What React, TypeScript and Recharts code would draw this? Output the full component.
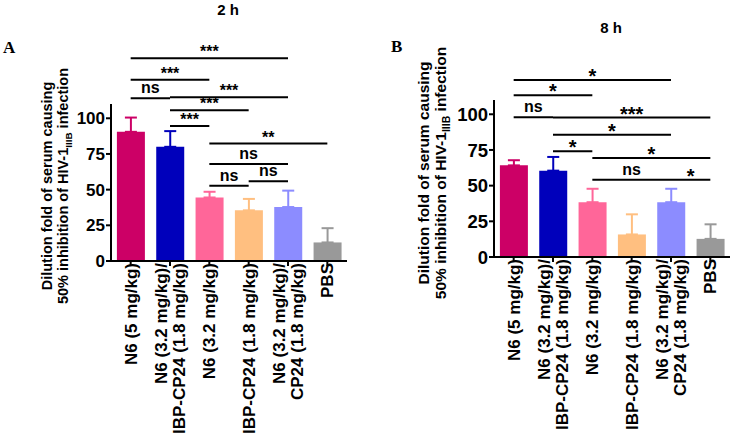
import React from 'react';
import { BarChart, Bar, XAxis, YAxis, ErrorBar, ReferenceLine } from 'recharts';

const FONT = '"Liberation Sans", Arial, sans-serif';

const categories = [
  'N6 (5 mg/kg)',
  'N6 (3.2 mg/kg)/\nIBP-CP24 (1.8 mg/kg)',
  'N6 (3.2 mg/kg)',
  'IBP-CP24 (1.8 mg/kg)',
  'N6 (3.2 mg/kg)/\nCP24 (1.8 mg/kg)',
  'PBS',
];
const colors = ['#cc0066', '#0000bb', '#ff6699', '#ffbf80', '#8c8cff', '#999999'];
const yTicks = [0, 25, 50, 75, 100];

// 2 h
const meansA = [90.5, 80, 44.5, 35.5, 37.8, 13];
const errorsA = [10, 11, 4, 8, 11.5, 10];
// 8 h
const meansB = [64.2, 60.5, 38.4, 15.8, 38.4, 12.7];
const errorsB = [3.6, 9.6, 9.4, 14.1, 9.4, 10.2];

// significance brackets: from bar, to bar, height (y units), mark
const sigA = [
  { from: 0, to: 4, y: 142, text: '***' },
  { from: 0, to: 2, y: 127, text: '***' },
  { from: 0, to: 1, y: 114, text: 'ns' },
  { from: 1, to: 4, y: 114.7, text: '***' },
  { from: 1, to: 3, y: 105.6, text: '***' },
  { from: 1, to: 2, y: 94.6, text: '***' },
  { from: 2, to: 5, y: 82.3, text: '**' },
  { from: 2, to: 4, y: 68, text: 'ns' },
  { from: 2, to: 3, y: 52.7, text: 'ns' },
  { from: 3, to: 4, y: 55.9, text: 'ns' },
];
const sigB = [
  { from: 0, to: 4, y: 124, text: '*' },
  { from: 0, to: 2, y: 113.4, text: '*' },
  { from: 0, to: 1, y: 97.9, text: 'ns' },
  { from: 1, to: 5, y: 97.7, text: '***' },
  { from: 1, to: 4, y: 85.7, text: '*' },
  { from: 1, to: 2, y: 74.1, text: '*' },
  { from: 2, to: 5, y: 69.4, text: '*' },
  { from: 2, to: 4, y: 54.1, text: 'ns' },
  { from: 4, to: 5, y: 54.1, text: '*' },
];

const buildRows = (means: number[], errors: number[]) =>
  categories.map((name, i) => ({
    name,
    [`v${i}`]: means[i],
    [`e${i}`]: [0, errors[i]],
  }));

const XTick = (props: any) => {
  const { x, y, payload, fontSize } = props;
  const lines = String(payload.value).split('\n');
  const gap = 18.5;
  return (
    <g transform={`translate(${x},${y - 3})`}>
      <text
        transform="rotate(-90)"
        textAnchor="end"
        fontFamily={FONT}
        fontSize={fontSize}
        fontWeight="bold"
        fill="#000"
      >
        {lines.map((l, i) => (
          <tspan key={i} x={0} y={(i - (lines.length - 1) / 2) * gap + fontSize * 0.36}>
            {l}
          </tspan>
        ))}
      </text>
    </g>
  );
};

type PanelProps = {
  means: number[];
  errors: number[];
  sig: { from: number; to: number; y: number; text: string }[];
  width: number;
  top: number;
  right: number;
  yAxisWidth: number;
  xAxisHeight: number;
  tickFont: number;
  starFont: number;
  starOffset: number;
};

const Panel = (p: PanelProps) => {
  const rows = buildRows(p.means, p.errors);
  const axisStyle = { stroke: '#000', strokeWidth: 2 };
  return (
    <BarChart
      width={p.width}
      height={444}
      data={rows}
      margin={{ top: p.top, right: p.right, left: 0, bottom: 0 }}
      barCategoryGap="15%"
    >
      <XAxis
        dataKey="name"
        interval={0}
        height={p.xAxisHeight}
        axisLine={axisStyle}
        tickLine={axisStyle}
        tickSize={5}
        tickMargin={0}
        tick={<XTick fontSize={17} />}
      />
      <YAxis
        domain={[0, 110]}
        ticks={yTicks}
        width={p.yAxisWidth}
        axisLine={axisStyle}
        tickLine={axisStyle}
        tickSize={5}
        tickMargin={1}
        tick={{ fill: '#000', fontSize: p.tickFont, fontWeight: 'bold', fontFamily: FONT }}
        allowDataOverflow
      />
      {categories.map((_, i) => (
        <Bar key={i} dataKey={`v${i}`} stackId="s" fill={colors[i]} isAnimationActive={false}>
          <ErrorBar dataKey={`e${i}`} width={6} strokeWidth={2} stroke={colors[i]} direction="y" />
        </Bar>
      ))}
      {p.sig.map((s, k) => {
        const isNs = s.text === 'ns';
        return (
          <ReferenceLine
            key={k}
            segment={[
              { x: categories[s.from], y: s.y },
              { x: categories[s.to], y: s.y },
            ]}
            stroke="#000"
            strokeWidth={2}
            ifOverflow="visible"
            label={{
              value: s.text,
              position: 'top',
              offset: isNs ? 5 : p.starOffset,
              fontSize: isNs ? 16 : p.starFont,
              fontWeight: 'bold',
              fill: '#000',
              fontFamily: FONT,
            }}
          />
        );
      })}
    </BarChart>
  );
};

const YLabel = ({ x1, x2, cy, size }: { x1: number; x2: number; cy: number; size: number }) => (
  <g fontFamily={FONT} fontWeight="bold" fontSize={size} fill="#000">
    <text transform={`translate(${x1},${cy}) rotate(-90)`} textAnchor="middle">
      Dilution fold of serum causing
    </text>
    <text transform={`translate(${x2},${cy}) rotate(-90)`} textAnchor="middle">
      <tspan>50% inhibition of HIV-1</tspan>
      <tspan fontSize={size * 0.68} dy={4}>IIIB</tspan>
      <tspan dy={-4}> infection</tspan>
    </text>
  </g>
);

export default function App() {
  return (
    <div style={{ position: 'absolute', left: 0, top: 0, width: 731, height: 444, background: '#fff' }}>
      <div style={{ position: 'absolute', left: 0, top: 0 }}>
        <Panel
          means={meansA}
          errors={errorsA}
          sig={sigA}
          width={365}
          top={104}
          right={18}
          yAxisWidth={111}
          xAxisHeight={183}
          tickFont={17}
          starFont={16}
          starOffset={1}
        />
      </div>
      <div style={{ position: 'absolute', left: 365, top: 0 }}>
        <Panel
          means={meansB}
          errors={errorsB}
          sig={sigB}
          width={366}
          top={100}
          right={1}
          yAxisWidth={129}
          xAxisHeight={187}
          tickFont={18.5}
          starFont={20}
          starOffset={-3}
        />
      </div>
      <svg width={731} height={444} style={{ position: 'absolute', left: 0, top: 0, pointerEvents: 'none' }}>
        <text x={228} y={15} textAnchor="middle" fontFamily={FONT} fontWeight="bold" fontSize={15}>2 h</text>
        <text x={611} y={33} textAnchor="middle" fontFamily={FONT} fontWeight="bold" fontSize={15}>8 h</text>
        <text x={3} y={53} fontFamily='"Liberation Serif", "Times New Roman", serif' fontWeight="bold" fontSize={17}>A</text>
        <text x={391} y={52} fontFamily='"Liberation Serif", "Times New Roman", serif' fontWeight="bold" fontSize={17}>B</text>
        <YLabel x1={52} x2={68} cy={186} size={14.5} />
        <YLabel x1={429} x2={446} cy={173} size={15.5} />
      </svg>
    </div>
  );
}
